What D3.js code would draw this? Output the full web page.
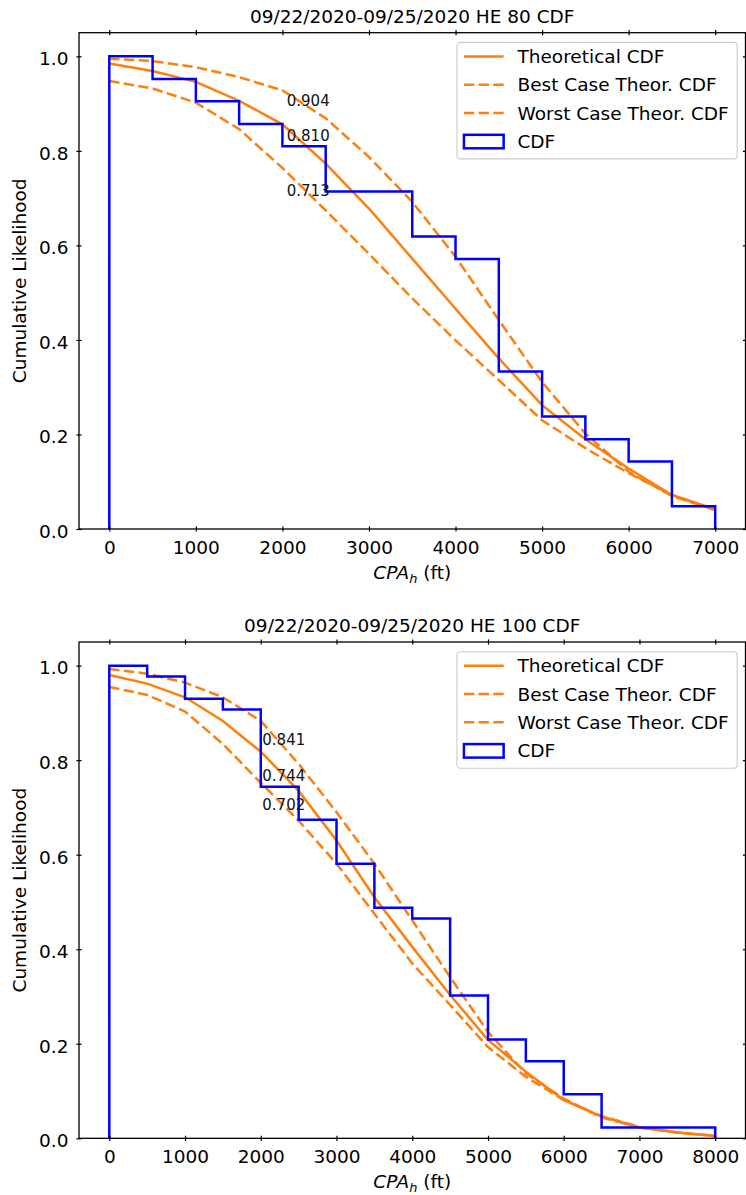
<!DOCTYPE html>
<html>
<head>
  <meta charset="utf-8">
  <title>HE CDF</title>
  <style>
    body { margin: 0; background: #fff; }
    svg { display: block; font-family: "DejaVu Sans", sans-serif; }
  </style>
</head>
<body>

<svg width="746" height="1195" viewBox="0 0 746 1195"></svg>

<script src="https://d3js.org/d3.v7.min.js"></script>
<script>
// ---- HE 80 panel
const titleTop = '09/22/2020-09/25/2020 HE 80 CDF';
const binEdgesTop = [0, 500, 1000, 1500, 2000, 2500, 3000, 3500, 4000, 4500, 5000, 5500, 6000, 6500, 7000];
const cdfTop = [1.0, 0.952, 0.905, 0.857, 0.810, 0.714, 0.714, 0.619, 0.571, 0.333, 0.238, 0.190, 0.143, 0.048];
const theoryXTop = [0, 500, 1000, 1500, 2000, 2500, 3000, 3500, 4000, 4500, 5000, 5500, 6000, 6500, 7000];
const theoryTop = [0.985, 0.969, 0.946, 0.906, 0.856, 0.773, 0.678, 0.572, 0.466, 0.361, 0.262, 0.190, 0.128, 0.072, 0.042];
const bestTop = [0.995, 0.990, 0.977, 0.956, 0.928, 0.869, 0.787, 0.692, 0.576, 0.442, 0.311, 0.202, 0.121, 0.070, 0.040];
const worstTop = [0.948, 0.932, 0.902, 0.846, 0.764, 0.674, 0.582, 0.488, 0.399, 0.315, 0.230, 0.171, 0.118, 0.072, 0.040];
const notesTop = [
  { x: 2050, y: 0.907, text: '0.904' },
  { x: 2050, y: 0.833, text: '0.810' },
  { x: 2050, y: 0.715, text: '0.713' }
];
const xTicksTop = [0, 1000, 2000, 3000, 4000, 5000, 6000, 7000];

// ---- HE 100 panel
const titleBottom = '09/22/2020-09/25/2020 HE 100 CDF';
const binEdgesBottom = [0, 500, 1000, 1500, 2000, 2500, 3000, 3500, 4000, 4500, 5000, 5500, 6000, 6500, 7000, 7500, 8000];
const cdfBottom = [1.0, 0.977, 0.930, 0.907, 0.744, 0.674, 0.581, 0.488, 0.465, 0.302, 0.209, 0.163, 0.093, 0.023, 0.023, 0.023];
const theoryXBottom = [0, 500, 1000, 1500, 2000, 2500, 3000, 3500, 4000, 4500, 5000, 5500, 6000, 6500, 7000, 7500, 8000];
const theoryBottom = [0.980, 0.962, 0.933, 0.883, 0.818, 0.735, 0.630, 0.510, 0.405, 0.303, 0.208, 0.141, 0.081, 0.046, 0.023, 0.012, 0.005];
const bestBottom = [0.993, 0.983, 0.964, 0.933, 0.883, 0.792, 0.690, 0.581, 0.461, 0.341, 0.225, 0.137, 0.084, 0.044, 0.023, 0.013, 0.005];
const worstBottom = [0.955, 0.938, 0.903, 0.834, 0.752, 0.672, 0.581, 0.475, 0.370, 0.282, 0.193, 0.130, 0.081, 0.047, 0.024, 0.012, 0.005];
const notesBottom = [
  { x: 2020, y: 0.843, text: '0.841' },
  { x: 2020, y: 0.767, text: '0.744' },
  { x: 2020, y: 0.705, text: '0.702' }
];
const xTicksBottom = [0, 1000, 2000, 3000, 4000, 5000, 6000, 7000, 8000];

// ---- shared
const yTicks = [0, 0.2, 0.4, 0.6, 0.8, 1.0];
const legendLabels = ['Theoretical CDF', 'Best Case Theor. CDF', 'Worst Case Theor. CDF', 'CDF'];
const yLabel = 'Cumulative Likelihood';

const svg = d3.select('svg');
const orange = '#ff7f0e';
const blue = '#0000ff';
const fs = 18.5;
const lw = 2.5;
const dash = '10.3,4.4';
const left = 79;
const right = 745.5;
const plotH = 496.3;

function drawPanel (p) {
  const top = p.top;
  const bottom = top + plotH;
  const x = d3.scaleLinear().domain(p.xDomain).range([left, right]);
  const y = d3.scaleLinear().domain([0, 1.05]).range([bottom, top]);
  const g = svg.append('g');

  g.append('clipPath').attr('id', p.id)
    .append('rect')
    .attr('x', left).attr('y', top)
    .attr('width', right - left).attr('height', plotH);

  const plot = g.append('g').attr('clip-path', `url(#${p.id})`);
  const line = d3.line().x(d => x(d[0])).y(d => y(d[1]));

  // empirical cdf as step outline
  const last = p.edges.length - 1;
  const steps = [[p.edges[0], 0]];
  p.cdf.forEach((v, i) => steps.push([p.edges[i], v], [p.edges[i + 1], v]));
  steps.push([p.edges[last], 0]);

  // theoretical curves
  const curves = [
    { vals: p.theory, dashed: false },
    { vals: p.best, dashed: true },
    { vals: p.worst, dashed: true }
  ];
  plot.selectAll('.theo').data(curves).join('path')
    .attr('class', 'theo')
    .attr('d', c => line(p.xs.map((xv, i) => [xv, c.vals[i]])))
    .attr('fill', 'none')
    .attr('stroke', orange)
    .attr('stroke-width', lw)
    .attr('stroke-dasharray', c => c.dashed ? dash : null);

  plot.append('path')
    .attr('d', line(steps))
    .attr('fill', 'none')
    .attr('stroke', blue)
    .attr('stroke-width', lw)
    .attr('stroke-linejoin', 'miter');

  // value notes
  g.selectAll('.note').data(p.notes).join('text')
    .attr('class', 'note')
    .attr('x', d => x(d.x))
    .attr('y', d => y(d.y))
    .attr('dy', '0.36em')
    .attr('font-size', '15px')
    .attr('fill', '#111')
    .text(d => d.text);

  // axes
  const ax = [
    { a: d3.axisBottom(x).tickValues(p.xTicks).tickFormat(d3.format('d')), t: `translate(0,${bottom})`, lab: true, dir: 'x' },
    { a: d3.axisTop(x).tickValues(p.xTicks), t: `translate(0,${top})`, lab: false, dir: 'x' },
    { a: d3.axisLeft(y).tickValues(yTicks).tickFormat(d3.format('.1f')), t: `translate(${left},0)`, lab: true, dir: 'y' },
    { a: d3.axisRight(y).tickValues(yTicks), t: `translate(${right},0)`, lab: false, dir: 'y' }
  ];
  ax.forEach(o => {
    const ga = g.append('g').attr('transform', o.t).call(o.a);
    ga.select('.domain').remove();
    ga.selectAll('.tick line').attr('stroke', '#000').attr('stroke-width', 1.2);
    if (o.dir === 'x') ga.selectAll('.tick line').attr('y1', -2.6).attr('y2', 2.6);
    else ga.selectAll('.tick line').attr('x1', -2.6).attr('x2', 2.6);
    const txt = ga.selectAll('.tick text');
    if (!o.lab) { txt.remove(); return; }
    txt.attr('font-family', '"DejaVu Sans", sans-serif')
      .attr('font-size', fs + 'px')
      .attr('fill', '#000');
    if (o.dir === 'x') txt.attr('y', 25).attr('dy', 0);
    else txt.attr('x', -10.5).attr('dy', '0.45em');
  });

  g.append('rect')
    .attr('x', left).attr('y', top)
    .attr('width', right - left).attr('height', plotH)
    .attr('fill', 'none')
    .attr('stroke', '#000')
    .attr('stroke-width', 1.3);

  // title and labels
  g.append('text')
    .attr('x', (left + right) / 2)
    .attr('y', top - 10)
    .attr('text-anchor', 'middle')
    .attr('font-size', fs + 'px')
    .text(p.title);

  g.append('text')
    .attr('transform', `translate(26,${(top + bottom) / 2}) rotate(-90)`)
    .attr('text-anchor', 'middle')
    .attr('font-size', fs + 'px')
    .text(yLabel);

  const xl = g.append('text')
    .attr('x', (left + right) / 2)
    .attr('y', bottom + 50)
    .attr('text-anchor', 'middle')
    .attr('font-size', fs + 'px');
  xl.append('tspan').attr('font-style', 'italic').text('CPA');
  xl.append('tspan').attr('font-style', 'italic').attr('font-size', (fs * 0.7) + 'px').attr('dy', 3.5).text('h');
  xl.append('tspan').attr('dy', -3.5).text(' (ft)');

  // legend
  const lg = g.append('g');
  const frame = lg.append('rect');
  const rowH = 28.3;
  const rows = lg.selectAll('.row').data(legendLabels).join('g')
    .attr('class', 'row')
    .attr('transform', (d, i) => `translate(0,${14 + i * rowH})`);
  rows.append('text')
    .attr('x', 60.5)
    .attr('dy', '0.36em')
    .attr('font-size', fs + 'px')
    .text(d => d);
  rows.each(function (d, i) {
    const r = d3.select(this);
    if (i < 3) {
      r.append('line')
        .attr('x1', 7).attr('x2', 46.7)
        .attr('stroke', orange)
        .attr('stroke-width', lw)
        .attr('stroke-dasharray', i === 0 ? null : dash);
    } else {
      r.append('rect')
        .attr('x', 7).attr('y', -6.5)
        .attr('width', 39.7).attr('height', 13.5)
        .attr('fill', 'none')
        .attr('stroke', blue)
        .attr('stroke-width', lw);
    }
  });
  let maxW = 0;
  rows.selectAll('text').each(function () { maxW = Math.max(maxW, this.getComputedTextLength()); });
  const fw = 60.5 + maxW + 8.5;
  const fh = 14 + 3 * rowH + 17.6;
  frame.attr('width', fw).attr('height', fh)
    .attr('rx', 3.5)
    .attr('fill', '#fff').attr('fill-opacity', 0.8)
    .attr('stroke', '#cccccc').attr('stroke-width', 1.1);
  lg.attr('transform', `translate(${right - 8.3 - fw},${top + 9.7})`);
}

drawPanel({
  id: 'clip-top', top: 32.7, xDomain: [-350, 7350], title: titleTop,
  edges: binEdgesTop, cdf: cdfTop, xs: theoryXTop,
  theory: theoryTop, best: bestTop, worst: worstTop,
  notes: notesTop, xTicks: xTicksTop
});
drawPanel({
  id: 'clip-bottom', top: 642, xDomain: [-400, 8400], title: titleBottom,
  edges: binEdgesBottom, cdf: cdfBottom, xs: theoryXBottom,
  theory: theoryBottom, best: bestBottom, worst: worstBottom,
  notes: notesBottom, xTicks: xTicksBottom
});
</script>

</body>
</html>
